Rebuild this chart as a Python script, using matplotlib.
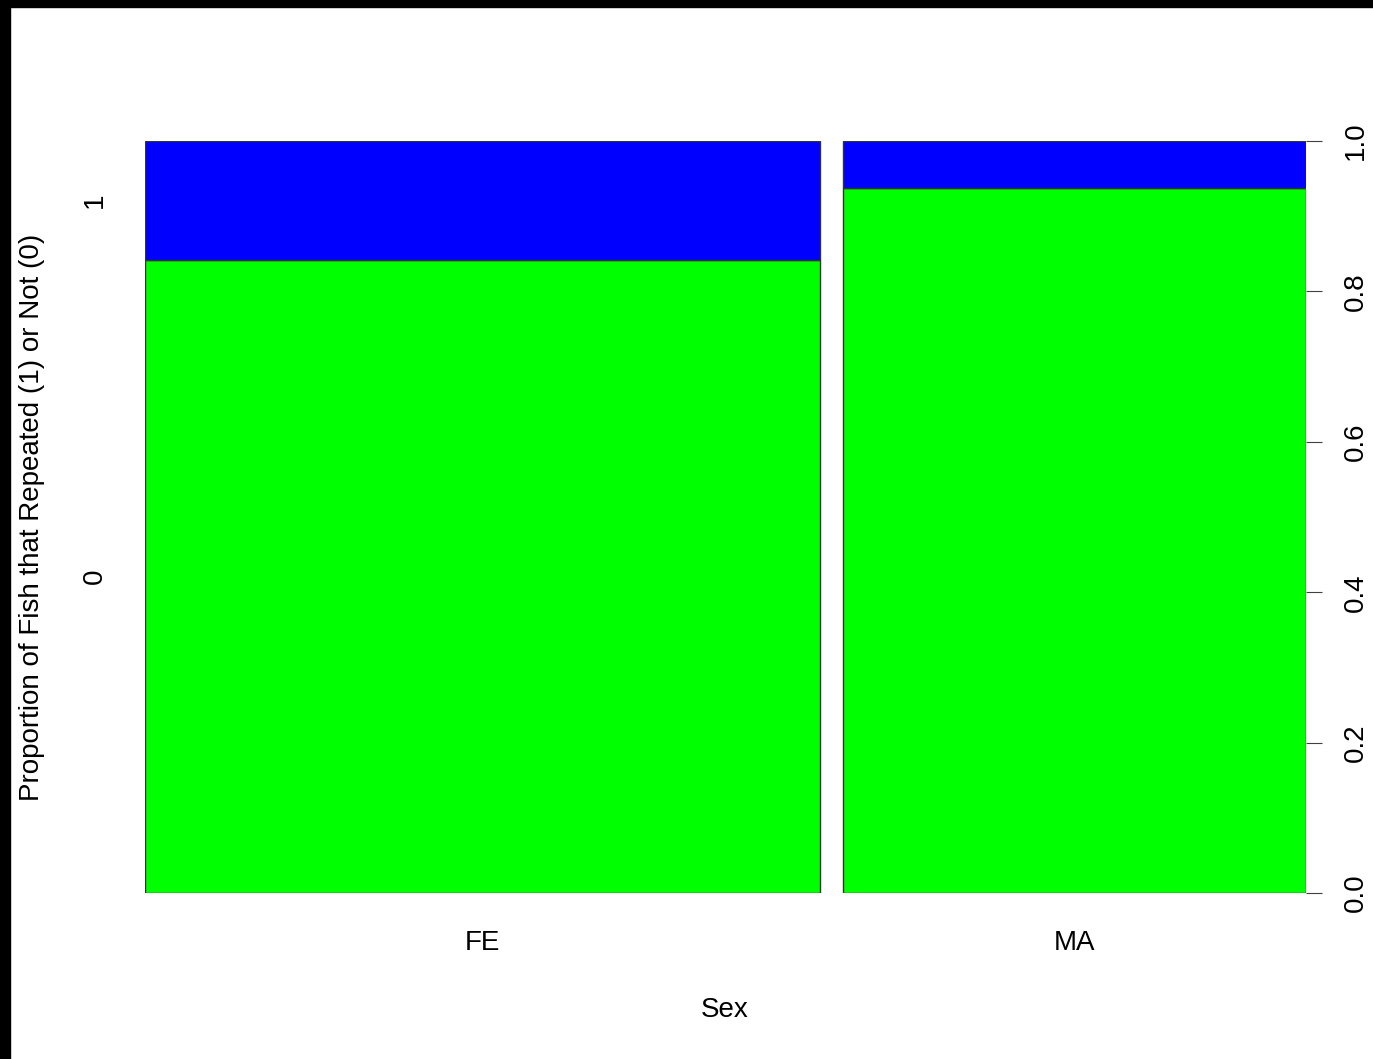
import matplotlib
matplotlib.use("Agg")
import matplotlib.pyplot as plt
from matplotlib.patches import Rectangle
import numpy as np

# spineplot data: share of fish per sex (bar width) and share not repeated (0)
sexes = ["FE", "MA"]
sex_share = [0.593, 0.407]
not_repeated = [0.842, 0.9375]
levels = ["0", "1"]
right_ticks = [0.0, 0.2, 0.4, 0.6, 0.8, 1.0]

plt.rcParams['font.family'] = ['Liberation Sans', 'DejaVu Sans']
fs = 20

fig = plt.figure(figsize=(13.73, 10.59), dpi=100)
ax = fig.add_axes([145/1373, 1 - 893/1059, (1306-145)/1373, (893-141)/1059])

off = 0.02
lefts = []
x = 0.0
for w in sex_share:
    lefts.append(x)
    x += w + off
lefts = np.array(lefts)
widths = np.array(sex_share)
p0 = np.array(not_repeated)

ax.bar(lefts, p0, width=widths, align='edge', color='#00FF00', edgecolor='#333333', linewidth=1)
ax.bar(lefts, 1 - p0, bottom=p0, width=widths, align='edge', color='#0000FF', edgecolor='#333333', linewidth=1)

ax.set_xlim(0, 1 + off * (len(sexes) - 1))
ax.set_ylim(0, 1)
for s in ax.spines.values():
    s.set_visible(False)

# x labels under bar centers
ax.set_xticks(lefts + widths / 2)
ax.set_xticklabels(sexes, fontsize=fs)
ax.tick_params(axis='x', length=0, pad=27)

# left axis: level names at the middle of the first bar's pieces
ax.set_yticks([p0[0] / 2, (1 + p0[0]) / 2])
ax.set_yticklabels(levels, fontsize=fs, rotation=90, va='center')
ax.tick_params(axis='y', length=0, pad=27)

# right axis with proportions
ax2 = ax.twinx()
ax2.set_ylim(0, 1)
for s in ax2.spines.values():
    s.set_visible(False)
ax2.set_yticks(right_ticks)
ax2.set_yticklabels([f"{t:.1f}" for t in right_ticks], fontsize=fs, rotation=90, va='center')
ax2.tick_params(axis='y', length=11.5, width=0.8, color='#404040', pad=15)

fig.text(725/1373, 1 - 1010/1059, "Sex", fontsize=fs, ha='center', va='center')
fig.text(32/1373, 1 - 517/1059, "Proportion of Fish that Repeated (1) or Not (0)",
         fontsize=fs, ha='center', va='center', rotation=90)

# black frame strips at top and left
fig.add_artist(Rectangle((0, 1 - 7/1059), 1, 7/1059, transform=fig.transFigure, color='black'))
fig.add_artist(Rectangle((0, 0), 10/1373, 1, transform=fig.transFigure, color='black'))

fig.savefig("out.png", dpi=100)
